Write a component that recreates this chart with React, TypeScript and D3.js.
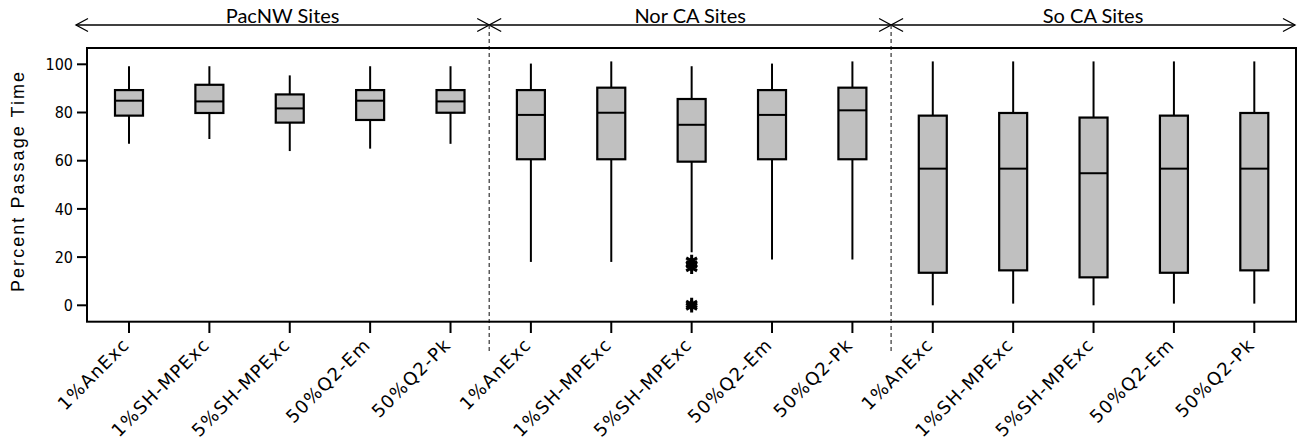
import React from "react";
import * as d3 from "d3";

const treatments = ["1%AnExc", "1%SH-MPExc", "5%SH-MPExc", "50%Q2-Em", "50%Q2-Pk"];
const groups = ["PacNW Sites", "Nor CA Sites", "So CA Sites"];
const yTicks = [0, 20, 40, 60, 80, 100];

const whiskerLow = [67, 69, 64, 65, 67, 18, 18, 22, 19, 19, 0, 0.7, 0, 0.7, 0.7];
const q1 = [78.7, 79.8, 75.8, 76.9, 79.9, 60.6, 60.6, 59.6, 60.6, 60.6, 13.5, 14.5, 11.6, 13.5, 14.5];
const medians = [84.9, 84.6, 81.7, 84.9, 84.6, 79, 79.9, 74.9, 79, 80.9, 56.7, 56.7, 54.8, 56.7, 56.7];
const q3 = [89.3, 91.5, 87.5, 89.3, 89.3, 89.3, 90.3, 85.6, 89.3, 90.3, 78.7, 79.8, 77.9, 78.7, 79.8];
const whiskerHigh = [99.2, 99.2, 95.4, 99.2, 99.2, 100.3, 101.2, 99.2, 100.3, 101.2, 101.2, 101.2, 101.2, 101.2, 101.2];
const outlierIndex = [7, 7, 7, 7, 7];
const outlierValue = [15.6, 17, 18.4, -0.4, 0.5];

const W = 1303;
const H = 444;
const frame = { left: 87, right: 1296, top: 48, bottom: 321.7 };

export default function App() {
  const idx = d3.range(treatments.length * groups.length).map(String);
  const x = d3.scalePoint<string>().domain(idx).range([129, 1254.3]);
  const y = d3.scaleLinear().domain([0, 100]).range([305.3, 64.3]);
  const boxW = 28;
  const labelOf = (i: number) => treatments[i % treatments.length];
  const dividers = [1, 2].map((g) => (x(String(g * 5 - 1))! + x(String(g * 5))!) / 2 - 1.5);
  const arrowY = 25;
  const arrowStart = 76;
  const arrowEnd = 1295;
  const bounds = [arrowStart, ...dividers, arrowEnd];
  const ah = 12;
  const av = 6.5;
  const star = d3.symbol().type(d3.symbolAsterisk).size(110)();

  return (
    <svg width={W} height={H} style={{ position: "absolute", left: 0, top: 0, background: "#fff" }}>
      {/* group header arrows */}
      <line x1={arrowStart} x2={arrowEnd} y1={arrowY} y2={arrowY} stroke="#000" strokeWidth={1.3} />
      {groups.map((g, i) => {
        const a = bounds[i];
        const b = bounds[i + 1];
        return (
          <g key={g}>
            <path
              d={`M${a + ah},${arrowY - av}L${a},${arrowY}L${a + ah},${arrowY + av}`}
              fill="none"
              stroke="#000"
              strokeWidth={1.3}
            />
            <path
              d={`M${b - ah},${arrowY - av}L${b},${arrowY}L${b - ah},${arrowY + av}`}
              fill="none"
              stroke="#000"
              strokeWidth={1.3}
            />
            <text
              x={(a + b) / 2}
              y={23}
              textAnchor="middle"
              fontFamily="Lato, 'Open Sans', sans-serif"
              fontSize={20}
              fill="#000"
            >
              {g}
            </text>
          </g>
        );
      })}
      {dividers.map((d, i) => (
        <line key={i} x1={d} x2={d} y1={arrowY} y2={352} stroke="#333" strokeWidth={1.2} strokeDasharray="4,3" />
      ))}

      {/* frame */}
      <rect
        x={frame.left}
        y={frame.top}
        width={frame.right - frame.left}
        height={frame.bottom - frame.top}
        fill="none"
        stroke="#000"
        strokeWidth={2}
      />

      {/* y axis */}
      {yTicks.map((t) => (
        <g key={t}>
          <line x1={77} x2={frame.left} y1={y(t)} y2={y(t)} stroke="#000" strokeWidth={2} />
          <text
            x={73}
            y={y(t)}
            dy="0.36em"
            textAnchor="end"
            fontFamily="'DejaVu Sans Condensed', 'DejaVu Sans', sans-serif"
            fontStretch="condensed"
            fontSize={16}
            fill="#000"
          >
            {t}
          </text>
        </g>
      ))}
      <text
        transform={`translate(24,${(72 + 292) / 2}) rotate(-90)`}
        textAnchor="middle"
        fontFamily="'Liberation Sans', Arial, sans-serif"
        fontSize={18}
        textLength={220}
        lengthAdjust="spacing"
        fill="#000"
      >
        Percent Passage Time
      </text>

      {/* x axis ticks + labels */}
      {idx.map((k, i) => (
        <g key={k}>
          <line x1={x(k)} x2={x(k)} y1={frame.bottom} y2={333} stroke="#000" strokeWidth={2} />
          <text
            transform={`translate(${x(k)! + 1.5},${346}) rotate(-45)`}
            textAnchor="end"
            fontFamily="'DejaVu Sans', sans-serif"
            fontSize={18}
            letterSpacing={1.2}
            fill="#000"
          >
            {labelOf(i)}
          </text>
        </g>
      ))}

      {/* boxes */}
      {idx.map((k, i) => {
        const cx = x(k)!;
        return (
          <g key={"b" + k}>
            <line x1={cx} x2={cx} y1={y(whiskerHigh[i])} y2={y(q3[i])} stroke="#000" strokeWidth={2} />
            <line x1={cx} x2={cx} y1={y(q1[i])} y2={y(whiskerLow[i])} stroke="#000" strokeWidth={2} />
            <rect
              x={cx - boxW / 2}
              y={y(q3[i])}
              width={boxW}
              height={y(q1[i]) - y(q3[i])}
              fill="#c0c0c0"
              stroke="#000"
              strokeWidth={2.2}
            />
            <line
              x1={cx - boxW / 2}
              x2={cx + boxW / 2}
              y1={y(medians[i])}
              y2={y(medians[i])}
              stroke="#000"
              strokeWidth={2}
            />
          </g>
        );
      })}

      {/* outliers */}
      {outlierIndex.map((oi, j) => (
        <path
          key={"o" + j}
          d={star!}
          transform={`translate(${x(String(oi))!},${y(outlierValue[j])})`}
          fill="none"
          stroke="#000"
          strokeWidth={3}
        />
      ))}
    </svg>
  );
}
